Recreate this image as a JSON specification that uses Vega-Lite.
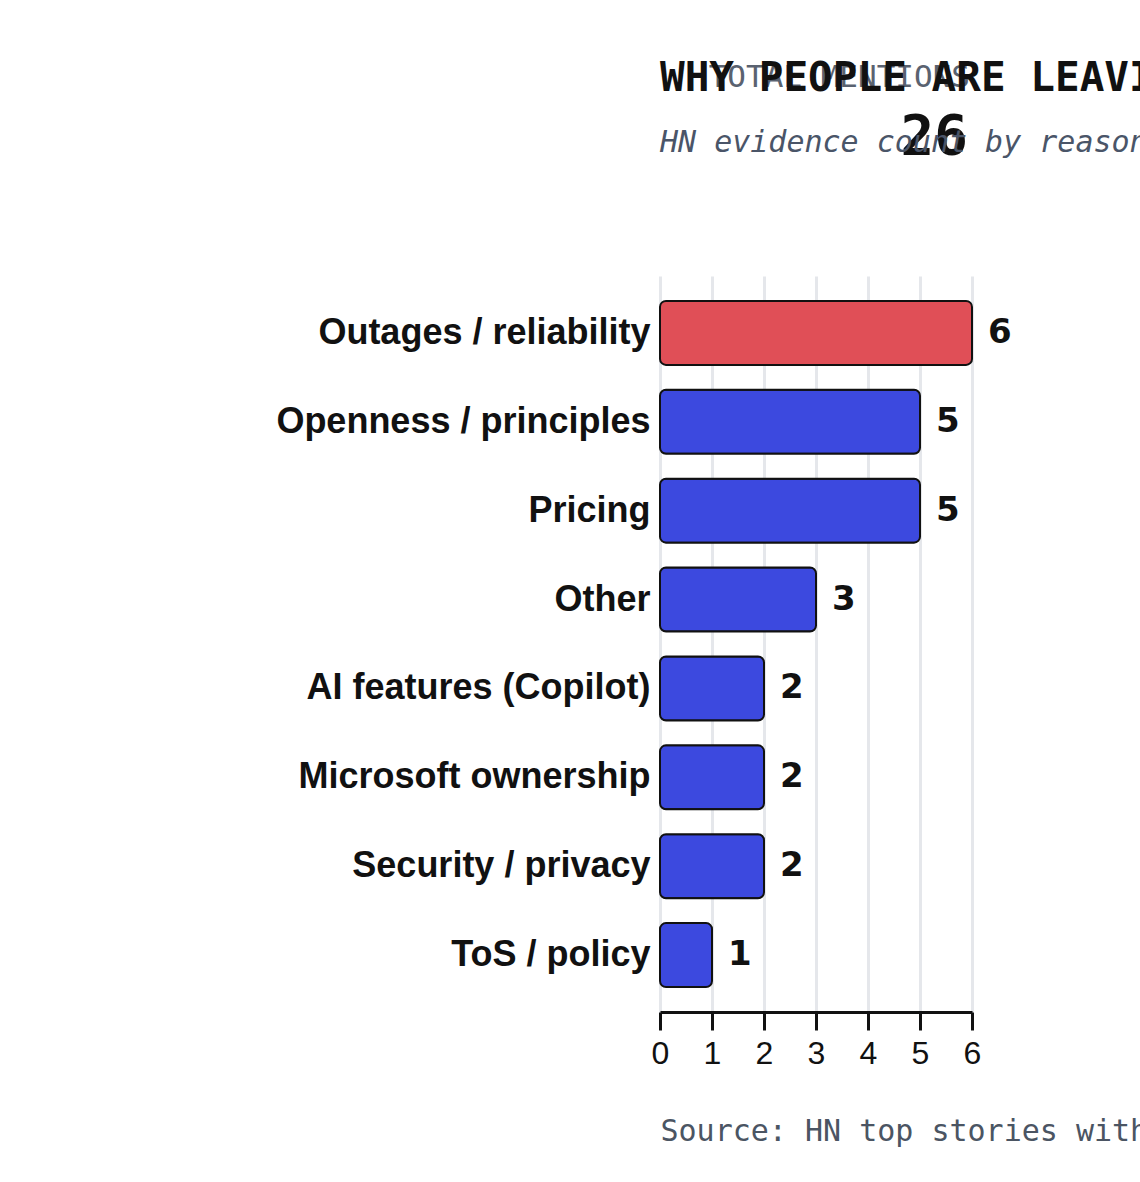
{
  "$schema": "https://vega.github.io/schema/vega-lite/v6.json",
  "width": 312,
  "height": 736,
  "padding": {"top": 58, "left": 5, "right": 5, "bottom": 5},
  "background": "white",
  "title": {
    "text": "WHY PEOPLE ARE LEAVING GITHUB",
    "subtitle": "HN evidence count by reason, 2024-2025",
    "anchor": "start",
    "frame": "group",
    "font": "DejaVu Sans Mono",
    "fontSize": 41,
    "fontWeight": "bold",
    "color": "#111111",
    "subtitleFont": "DejaVu Sans Mono",
    "subtitleFontSize": 30,
    "subtitleFontStyle": "italic",
    "subtitleColor": "#4a5568",
    "subtitlePadding": 28,
    "offset": -97
  },
  "data": {
    "values": [
      {"reason": "Outages / reliability", "count": 6},
      {"reason": "Openness / principles", "count": 5},
      {"reason": "Pricing", "count": 5},
      {"reason": "Other", "count": 3},
      {"reason": "AI features (Copilot)", "count": 2},
      {"reason": "Microsoft ownership", "count": 2},
      {"reason": "Security / privacy", "count": 2},
      {"reason": "ToS / policy", "count": 1}
    ]
  },
  "config": {
    "view": {"stroke": null}
  },
  "layer": [
    {
      "mark": {
        "type": "bar",
        "cornerRadius": 6,
        "stroke": "#111111",
        "strokeWidth": 2
      },
      "encoding": {
        "y": {
          "field": "reason",
          "type": "nominal",
          "sort": null,
          "scale": {"paddingInner": 0.28, "paddingOuter": 0.28},
          "axis": {
            "title": null,
            "domain": false,
            "ticks": false,
            "labelFont": "Liberation Sans",
            "labelFontSize": 36,
            "labelFontWeight": "bold",
            "labelColor": "#111111",
            "labelPadding": 10,
            "labelLimit": 600,
            "minExtent": 655
          }
        },
        "x": {
          "field": "count",
          "type": "quantitative",
          "scale": {"domain": [0, 6]},
          "axis": {
            "title": "Source: HN top stories with GitHub in the title",
            "titleFont": "DejaVu Sans Mono",
            "titleFontSize": 30,
            "titleFontWeight": "normal",
            "titleColor": "#4b5563",
            "titleAnchor": "start",
            "titleAlign": "left",
            "titlePadding": 47,
            "tickCount": 6,
            "labelFont": "Liberation Sans",
            "labelFontSize": 32,
            "labelColor": "#111111",
            "labelPadding": 8,
            "labelFlush": false,
            "domainColor": "#111111",
            "domainWidth": 3,
            "tickColor": "#111111",
            "tickWidth": 3,
            "tickSize": 18,
            "gridColor": "#e5e7eb",
            "gridWidth": 3
          }
        },
        "color": {
          "condition": {"test": "datum.reason === 'Outages / reliability'", "value": "#e04f57"},
          "value": "#3c49df"
        }
      }
    },
    {
      "mark": {
        "type": "text",
        "align": "left",
        "baseline": "middle",
        "dx": 16,
        "font": "DejaVu Sans",
        "fontSize": 34,
        "fontWeight": "bold",
        "color": "#111111"
      },
      "encoding": {
        "y": {"field": "reason", "type": "nominal", "sort": null},
        "x": {"field": "count", "type": "quantitative"},
        "text": {"field": "count", "type": "quantitative"}
      }
    },
    {
      "transform": [{"aggregate": [{"op": "sum", "field": "count", "as": "total"}]}],
      "mark": {
        "type": "text",
        "text": "TOTAL MENTIONS",
        "align": "right",
        "baseline": "alphabetic",
        "dx": -2,
        "font": "DejaVu Sans Mono",
        "fontSize": 31,
        "color": "#5a6270"
      },
      "encoding": {
        "x": {"datum": 6, "type": "quantitative"},
        "y": {"value": -189}
      }
    },
    {
      "transform": [{"aggregate": [{"op": "sum", "field": "count", "as": "total"}]}],
      "mark": {
        "type": "text",
        "align": "right",
        "baseline": "alphabetic",
        "dx": -4,
        "font": "DejaVu Sans Mono",
        "fontSize": 56,
        "fontWeight": "bold",
        "color": "#111111"
      },
      "encoding": {
        "x": {"datum": 6, "type": "quantitative"},
        "y": {"value": -122},
        "text": {"field": "total", "type": "quantitative"}
      }
    }
  ]
}
